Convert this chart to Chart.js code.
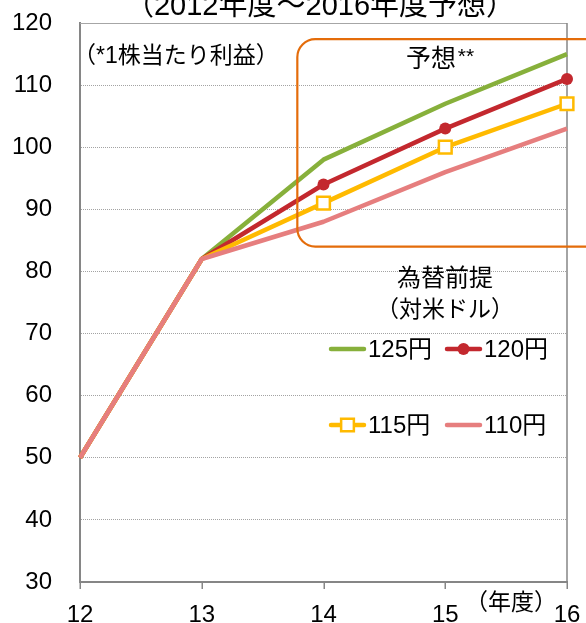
<!DOCTYPE html>
<html>
<head>
<meta charset="utf-8">
<script src="https://cdn.jsdelivr.net/npm/chart.js@4"></script>
<style>
  html, body { margin: 0; padding: 0; background: #fff; }
  #wrap { width: 586px; height: 623px; position: relative; }
</style>
</head>
<body>
<div id="wrap"><canvas id="c" width="586" height="623"></canvas></div>
<script>
// 年度 (fiscal year, 20xx)
const years = ['12', '13', '14', '15', '16'];
// 1株当たり利益 by assumed exchange rate
const eps125 = [50, 82, 98, 107, 115];
const eps120 = [50, 82, 94, 103, 111];
const eps115 = [50, 82, 91, 100, 107];
const eps110 = [50, 82, 88, 96, 103];
const rateLabels = ['125円', '120円', '115円', '110円'];
const yMin = 30, yMax = 120, yStep = 10;

const FONT = '"Liberation Sans", "Noto Sans CJK JP", sans-serif';
const JP = '"Noto Sans CJK JP", "Liberation Sans", sans-serif';
const AXIS = '#868686';
const CLEAR = 'rgba(0,0,0,0)';

const GREEN = '#87B03B';
const RED = '#C3282E';
const GOLD = '#FFBA00';
const PINK = '#E67E7E';
const ORANGE = '#E46C0A';

const noPts = [0, 0];

const datasets = [
  { label: rateLabels[3], data: eps110, borderColor: PINK, backgroundColor: PINK,
    pointRadius: 0, order: 0 },
  { label: rateLabels[0], data: eps125, borderColor: GREEN, backgroundColor: GREEN,
    pointRadius: 0, order: 3 },
  { label: rateLabels[1], data: eps120, borderColor: RED, backgroundColor: RED,
    pointRadius: noPts.concat([6, 6, 6]), pointStyle: 'circle', pointBorderWidth: 0, order: 2 },
  { label: rateLabels[2], data: eps115, borderColor: GOLD, backgroundColor: '#ffffff',
    pointRadius: noPts.concat([9, 9, 9]), pointStyle: 'rect', pointBorderWidth: 2.5, order: 1 }
].map(d => Object.assign({
  borderWidth: 4.5, tension: 0, clip: false, fill: false,
  borderJoinStyle: 'round', pointHoverRadius: 0
}, d));

function text(ctx, s, x, y, size, align, font) {
  ctx.font = size + 'px ' + (font || FONT);
  ctx.textAlign = align || 'center';
  ctx.textBaseline = 'middle';
  ctx.fillStyle = '#000';
  ctx.fillText(s, x, y);
}

function roundRect(ctx, x0, y0, x1, y1, r) {
  ctx.beginPath();
  ctx.moveTo(x0 + r, y0);
  ctx.lineTo(x1 - r, y0);
  ctx.arcTo(x1, y0, x1, y0 + r, r);
  ctx.lineTo(x1, y1 - r);
  ctx.arcTo(x1, y1, x1 - r, y1, r);
  ctx.lineTo(x0 + r, y1);
  ctx.arcTo(x0, y1, x0, y1 - r, r);
  ctx.lineTo(x0, y0 + r);
  ctx.arcTo(x0, y0, x0 + r, y0, r);
  ctx.closePath();
}

const decor = {
  id: 'decor',
  beforeDatasetsDraw(chart) {
    const { ctx, chartArea: a, scales: { x } } = chart;
    ctx.save();
    // plot frame: top and right edges
    ctx.strokeStyle = '#a6a6a6';
    ctx.lineWidth = 1;
    ctx.beginPath();
    ctx.moveTo(a.left, a.top + 0.5);
    ctx.lineTo(a.right, a.top + 0.5);
    ctx.stroke();
    ctx.strokeStyle = AXIS;
    ctx.lineWidth = 1.5;
    ctx.beginPath();
    ctx.moveTo(a.right, a.top);
    ctx.lineTo(a.right, a.bottom);
    ctx.stroke();
    // short tick marks under the category axis
    ctx.lineWidth = 1.5;
    x.ticks.forEach((t, i) => {
      const px = Math.round(x.getPixelForTick(i)) + 0.25;
      ctx.beginPath();
      ctx.moveTo(px, a.bottom);
      ctx.lineTo(px, a.bottom + 7);
      ctx.stroke();
    });
    ctx.restore();
  },
  afterDatasetsDraw(chart) {
    const { ctx, scales: { x, y } } = chart;
    ctx.save();

    // forecast region frame
    ctx.strokeStyle = ORANGE;
    ctx.lineWidth = 2.2;
    roundRect(ctx, x.getPixelForValue(1.785), y.getPixelForValue(117.4),
              chart.width + 20, y.getPixelForValue(84.0), 18);
    ctx.stroke();

    // title (top cropped by the canvas edge)
    text(ctx, '（2012年度〜2016年度予想）', 320, 7, 29);

    text(ctx, '（*1株当たり利益）', 73, 57, 23, 'left');

    text(ctx, '予想', 431, 57, 25, 'center', JP);
    text(ctx, '**', 466, 57, 21, 'center');

    text(ctx, '為替前提', 445, 277, 24, 'center', JP);
    text(ctx, '（対米ドル）', 445, 308, 23, 'center', JP);

    // legend
    const ds = chart.data.datasets;
    const byLabel = l => ds.find(d => d.label === l);
    const slots = [
      [rateLabels[0], 331, 349], [rateLabels[1], 447, 349],
      [rateLabels[2], 331, 425], [rateLabels[3], 447, 425]
    ];
    slots.forEach(([lab, sx, sy]) => {
      const d = byLabel(lab);
      ctx.strokeStyle = d.borderColor;
      ctx.lineWidth = 4.5;
      ctx.lineCap = 'round';
      ctx.beginPath();
      ctx.moveTo(sx, sy);
      ctx.lineTo(sx + 33, sy);
      ctx.stroke();
      const r = Array.isArray(d.pointRadius) ? d.pointRadius[4] : 0;
      if (r > 0) {
        ctx.fillStyle = d.backgroundColor;
        ctx.strokeStyle = d.borderColor;
        ctx.lineWidth = d.pointBorderWidth || 0;
        ctx.beginPath();
        if (d.pointStyle === 'rect') {
          const s = r * Math.SQRT1_2;
          ctx.rect(sx + 16.5 - s, sy - s, 2 * s, 2 * s);
          ctx.fill();
          ctx.stroke();
        } else {
          ctx.arc(sx + 16.5, sy, r, 0, Math.PI * 2);
          ctx.fill();
        }
      }
      text(ctx, lab, sx + 37, sy + 1, 24, 'left');
    });

    // x axis unit
    text(ctx, '（年度）', 511, 601, 23, 'center', JP);
    ctx.restore();
  }
};

new Chart(document.getElementById('c'), {
  type: 'line',
  data: { labels: years, datasets },
  options: {
    responsive: false,
    animation: false,
    events: [],
    layout: { padding: { top: 23, right: 19, left: 0, bottom: 0 } },
    plugins: { legend: { display: false }, tooltip: { enabled: false }, title: { display: false } },
    scales: {
      x: {
        type: 'category',
        offset: false,
        afterFit(s) { s.height = 41; },
        grid: { display: true, drawOnChartArea: false, drawTicks: true, tickLength: 17,
                tickColor: CLEAR, color: CLEAR },
        border: { display: true, color: AXIS, width: 2 },
        ticks: { color: '#000', font: { family: FONT, size: 24 }, padding: 2,
                 maxRotation: 0, autoSkip: false }
      },
      y: {
        min: yMin, max: yMax,
        afterFit(s) { s.width = 80; },
        grid: {
          drawTicks: true,
          tickLength: 28,
          tickColor: CLEAR,
          lineWidth: 1,
          color: c => (c.tick && (c.tick.value === yMin || c.tick.value === yMax)) ? CLEAR : '#a3a3a3'
        },
        border: { display: true, color: AXIS, width: 2, dash: [1, 1] },
        ticks: { stepSize: yStep, color: '#000', font: { family: FONT, size: 24 }, padding: 0 }
      }
    }
  },
  plugins: [decor]
});
</script>
</body>
</html>
